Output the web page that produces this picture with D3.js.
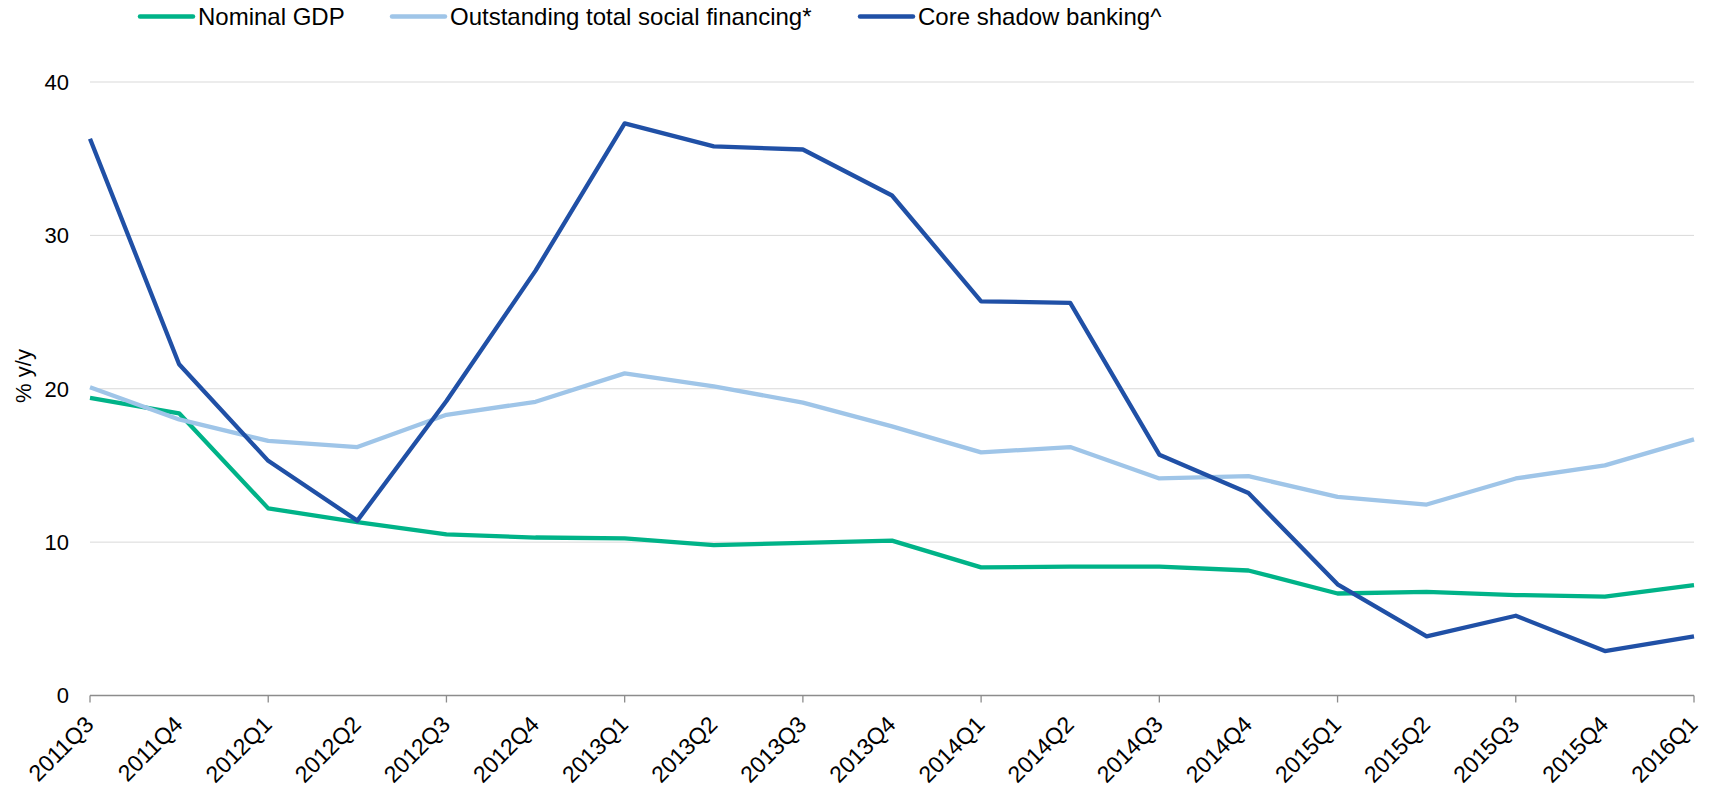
<!DOCTYPE html>
<html><head><meta charset="utf-8">
<script src="https://cdn.jsdelivr.net/npm/d3@7"></script>
<style>body{margin:0;background:#fff}svg{display:block;font-family:"Liberation Sans",Arial,sans-serif}</style>
</head><body><svg id="c" width="1712" height="788"></svg>
<script>
const categories=["2011Q3","2011Q4","2012Q1","2012Q2","2012Q3","2012Q4","2013Q1","2013Q2","2013Q3","2013Q4","2014Q1","2014Q2","2014Q3","2014Q4","2015Q1","2015Q2","2015Q3","2015Q4","2016Q1"];
const nominalGDP=[19.4,18.4,12.2,11.3,10.5,10.3,10.25,9.8,9.95,10.1,8.35,8.4,8.4,8.15,6.65,6.75,6.55,6.45,7.2];
const totalSocialFinancing=[20.1,18.0,16.6,16.2,18.3,19.15,21.0,20.15,19.1,17.55,15.85,16.2,14.15,14.3,12.95,12.45,14.15,15.0,16.7];
const coreShadowBanking=[36.3,21.6,15.3,11.4,19.2,27.7,37.3,35.8,35.6,32.6,25.7,25.6,15.7,13.2,7.25,3.85,5.2,2.9,3.85];
const yTicks=[0,10,20,30,40];
const seriesNames=["Nominal GDP","Outstanding total social financing*","Core shadow banking^"];
const colors=["#00b388","#9fc5e8","#2050a6"];

const svg=d3.select("#c");
const x=d3.scalePoint().domain(categories).range([90,1694]);
const y=d3.scaleLinear().domain([0,40]).range([695.5,82]);

// grid
svg.append("g").selectAll("line").data(yTicks.filter(d=>d>0)).join("line")
 .attr("x1",90).attr("x2",1694).attr("y1",d=>y(d)).attr("y2",d=>y(d))
 .attr("stroke","#d9d9d9").attr("stroke-width",1);

// y labels
svg.append("g").selectAll("text").data(yTicks).join("text")
 .attr("x",69).attr("y",d=>y(d)).attr("dy","0.36em").attr("text-anchor","end")
 .attr("font-size",22).attr("fill","#000").text(d=>d);

svg.append("text").attr("transform","translate(31,376) rotate(-90)")
 .attr("text-anchor","middle").attr("font-size",22).text("% y/y");

// x axis
const xa=svg.append("g").attr("transform","translate(0,695.5)");
xa.append("line").attr("x1",90).attr("x2",1694).attr("stroke","#8c8c8c").attr("stroke-width",1.3);
xa.selectAll("line.t").data(categories.filter((d,i)=>i%2===0)).join("line").attr("class","t")
 .attr("x1",d=>x(d)).attr("x2",d=>x(d)).attr("y1",0).attr("y2",7).attr("stroke","#8c8c8c").attr("stroke-width",1.3);
xa.selectAll("text").data(categories).join("text")
 .attr("transform",d=>`translate(${x(d)+5},30.5) rotate(-45)`)
 .attr("text-anchor","end").attr("font-size",23).text(d=>d);

// lines
const data=[nominalGDP,totalSocialFinancing,coreShadowBanking];
const line=d3.line().x((d,i)=>x(categories[i])).y(d=>y(d));
svg.append("g").selectAll("path").data(data).join("path")
 .attr("d",line).attr("fill","none").attr("stroke",(d,i)=>colors[i])
 .attr("stroke-width",4.3).attr("stroke-linejoin","round");

// legend
const lx=[140,392,860];
const lg=svg.append("g").selectAll("g").data(seriesNames).join("g").attr("transform",(d,i)=>`translate(${lx[i]},16.5)`);
lg.append("line").attr("x1",0).attr("x2",53).attr("stroke",(d,i)=>colors[i]).attr("stroke-width",4.5).attr("stroke-linecap","round");
lg.append("text").attr("x",58).attr("dy","0.36em").attr("font-size",24).text(d=>d);
</script></body></html>
